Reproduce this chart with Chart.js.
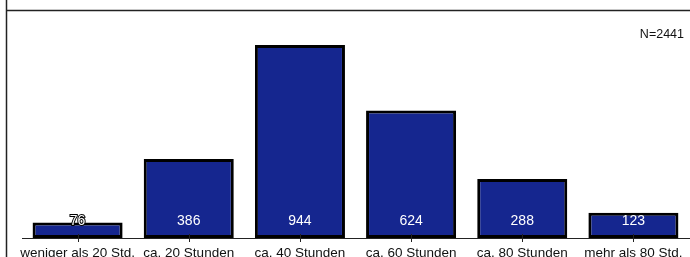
<!DOCTYPE html>
<html>
<head>
<meta charset="utf-8">
<script src="https://cdn.jsdelivr.net/npm/chart.js@4"></script>
<style>
  html, body { margin: 0; padding: 0; background: #fff; }
  #wrap { width: 690px; height: 257px; position: relative; }
</style>
</head>
<body>
<div id="wrap"><canvas id="hours-chart" width="690" height="257"></canvas></div>
<script>
// Arbeitszeit pro Woche
const categories = ['weniger als 20 Std.', 'ca. 20 Stunden', 'ca. 40 Stunden', 'ca. 60 Stunden', 'ca. 80 Stunden', 'mehr als 80 Std.'];
const counts = [76, 386, 944, 624, 288, 123];
const totalLabel = 'N=2441';

const fontFamily = '"Liberation Sans", Arial, sans-serif';

// Rahmen, Tick-Striche, Werte und N
const decorPlugin = {
    id: 'decor',
    afterDraw(chart) {
        const ctx = chart.ctx;
        const xScale = chart.scales.x;
        const yScale = chart.scales.y;
        const base = yScale.getPixelForValue(0);

        ctx.save();
        // frame
        ctx.strokeStyle = '#222';
        ctx.lineWidth = 1.5;
        ctx.beginPath();
        ctx.moveTo(6.5, 0);
        ctx.lineTo(6.5, chart.height);
        ctx.moveTo(6.5, 10.5);
        ctx.lineTo(chart.width, 10.5);
        ctx.stroke();

        // ticks across the baseline
        ctx.strokeStyle = '#222';
        ctx.lineWidth = 1;
        categories.forEach((c, i) => {
            const x = Math.round(xScale.getPixelForValue(i)) + 0.5;
            ctx.beginPath();
            ctx.moveTo(x, base + 4);
            ctx.lineTo(x, base - 4);
            ctx.stroke();
        });

        // values
        ctx.font = '14px ' + fontFamily;
        ctx.textAlign = 'center';
        ctx.textBaseline = 'middle';
        const meta = chart.getDatasetMeta(0);
        meta.data.forEach((bar, i) => {
            const y = base - 17;
            const text = String(counts[i]);
            if (bar.y > y - 6) {
                ctx.lineWidth = 2;
                ctx.strokeStyle = '#000';
                ctx.strokeText(text, bar.x, y);
            }
            ctx.fillStyle = '#fff';
            ctx.fillText(text, bar.x, y);
        });

        // N
        ctx.fillStyle = '#111';
        ctx.font = '12.5px ' + fontFamily;
        ctx.textAlign = 'right';
        ctx.fillText(totalLabel, 684, 35);
        ctx.restore();
    }
};

function initChart() {
    const ctx = document.getElementById('hours-chart').getContext('2d');

    new Chart(ctx, {
        type: 'bar',
        data: {
            labels: categories,
            datasets: [{
                data: counts,
                backgroundColor: 'rgb(21, 38, 143)',
                borderColor: '#000',
                borderWidth: 3,
                borderSkipped: false,
                barPercentage: 0.81,
                categoryPercentage: 1
            }]
        },
        options: {
            responsive: false,
            animation: false,
            layout: {
                padding: { left: 22, right: 1, top: 10, bottom: 0 }
            },
            scales: {
                x: {
                    afterFit: (scale) => { scale.height = 19; },
                    grid: { display: false, drawTicks: false },
                    border: { display: true, color: '#222', width: 1 },
                    ticks: {
                        color: '#111',
                        padding: 7,
                        maxRotation: 0,
                        autoSkip: false,
                        font: { family: fontFamily, size: 13.5 }
                    }
                },
                y: {
                    display: false,
                    min: 0,
                    max: 1115
                }
            },
            plugins: {
                legend: { display: false },
                tooltip: { enabled: false }
            }
        },
        plugins: [decorPlugin]
    });
}

initChart();
</script>
</body>
</html>
